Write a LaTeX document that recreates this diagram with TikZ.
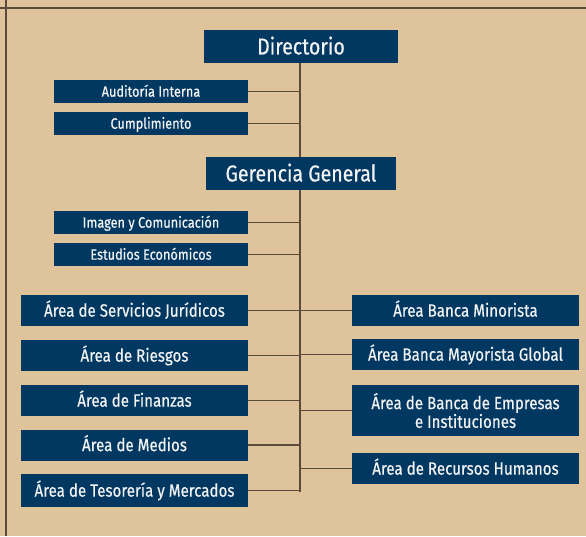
\documentclass[tikz,border=0pt]{standalone}
\usepackage{fontspec}
\setmainfont{Fira Sans}[FakeStretch=0.85, FakeBold=0.5]
\definecolor{bg}{HTML}{DFC39A}
\definecolor{boxblue}{HTML}{003862}
\definecolor{linec}{HTML}{5A4B3C}
\definecolor{txt}{HTML}{F2F2F2}
\pgfdeclarelayer{bgfill}
\pgfdeclarelayer{lines}
\pgfsetlayers{bgfill,lines,main}
\tikzset{
  box/.style={fill=boxblue, text=txt, inner sep=0pt, align=center},
  bigbox/.style={box, text height=15.9pt, text depth=0pt, minimum height=33pt, font=\fontsize{23}{25}\selectfont},
  smallbox/.style={box, text height=10.4pt, text depth=0pt, minimum width=194pt, minimum height=23pt, font=\fontsize{15}{17}\selectfont},
  areabox/.style={box, minimum width=227pt, minimum height=31pt, font=\fontsize{17.8}{19}\selectfont},
  oneline/.style={text height=12.3pt, text depth=0pt},
  conn/.style={draw=linec, line width=1.4pt},
  frame/.style={draw=linec, line width=2pt}
}
\begin{document}
\begin{tikzpicture}[x=1pt,y=-1pt]
\begin{pgfonlayer}{bgfill}
\fill[bg] (0,0) rectangle (586,536);
\end{pgfonlayer}
\useasboundingbox (0,0) rectangle (586,536);
\draw[frame] (0,8) -- (586,8);
\draw[frame, line width=1.6pt] (6,0) -- (6,536);

\node[bigbox, minimum width=194pt] (dir) at (301,46.5) {Directorio};
\node[smallbox] (aud) at (151,91.5) {Auditoría Interna};
\node[smallbox] (cum) at (151,123.5) {Cumplimiento};
\node[bigbox, minimum width=190pt] (ger) at (301,173.5) {Gerencia General};
\node[smallbox] (img) at (151,222.5) {Imagen y Comunicación};
\node[smallbox] (est) at (151,254.5) {Estudios Económicos};

\node[areabox, oneline] (jur) at (134.5,310.5) {Área de Servicios Jurídicos};
\node[areabox, oneline] (rie) at (134.5,355.5) {Área de Riesgos};
\node[areabox, oneline] (fin) at (134.5,400.5) {Área de Finanzas};
\node[areabox, oneline] (med) at (134.5,445) {Área de Medios};
\node[areabox, oneline, minimum height=33pt] (tes) at (134.5,490.5) {Área de Tesorería y Mercados};

\node[areabox, oneline] (min) at (465.5,310.5) {Área Banca Minorista};
\node[areabox, oneline] (may) at (465.5,354.5) {Área Banca Mayorista Global};
\node[areabox, minimum height=51pt, font=\fontsize{17.8}{17.5}\selectfont] (emp) at (465.5,410.5) {Área de Banca de Empresas\\e Instituciones};
\node[areabox, oneline] (rrh) at (465.5,468.5) {Área de Recursos Humanos};

\coordinate (top) at (300,63);
\coordinate (bot) at (300,491.5);
\begin{pgfonlayer}{lines}
\draw[conn, line width=1.8pt] (top) -- (bot);
\foreach \n in {aud,cum,img,est,jur,rie,fin,med,tes}{
  \draw[conn] (\n.east) -- (\n.east -| top);
}
\foreach \n in {min,may,emp,rrh}{
  \draw[conn] (\n.west) -- (\n.west -| top);
}
\end{pgfonlayer}
\end{tikzpicture}
\end{document}
